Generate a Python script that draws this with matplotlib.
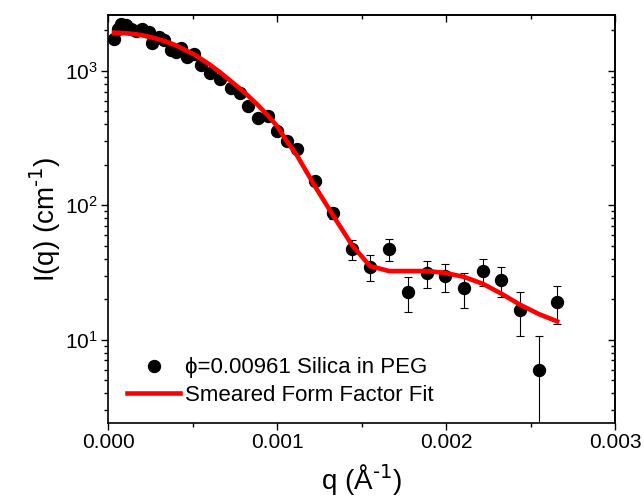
import numpy as np
import matplotlib
matplotlib.use("Agg")
import matplotlib.pyplot as plt
from matplotlib.lines import Line2D
from matplotlib.ticker import LogLocator, MultipleLocator, FormatStrFormatter, NullFormatter

plt.rcParams['font.family'] = ['Liberation Sans', 'DejaVu Sans']
plt.rcParams['mathtext.default'] = 'regular'

# ---- data ----
q_data = [3.55e-5, 5.92e-5, 7.69e-5, 1.065e-4, 1.361e-4, 1.657e-4, 2.012e-4, 2.426e-4,
          2.604e-4, 3.018e-4, 3.314e-4, 3.728e-4, 4.024e-4, 4.320e-4, 4.675e-4, 5.089e-4,
          5.503e-4, 6.036e-4, 6.627e-4, 7.278e-4, 7.811e-4, 8.284e-4, 8.876e-4, 9.467e-4,
          1.000e-3, 1.059e-3, 1.118e-3, 1.225e-3, 1.331e-3, 1.444e-3, 1.550e-3, 1.663e-3,
          1.775e-3, 1.888e-3, 1.994e-3, 2.107e-3, 2.219e-3, 2.325e-3, 2.438e-3, 2.550e-3,
          2.657e-3]
I_data = [1726, 2047, 2229, 2193, 2047, 1977, 2047, 1944,
          1611, 1785, 1698, 1431, 1383, 1481, 1270, 1337,
          1108, 967, 873, 748, 687, 550, 449, 464,
          359, 303, 264, 151, 87.3, 47.2, 34.8, 47.2,
          22.7, 31.4, 29.8, 24.3, 32.4, 27.8, 16.7, 6.0,
          19.1]
I_err = [40, 40, 40, 40, 40, 35, 35, 35,
         30, 30, 30, 28, 28, 28, 25, 25,
         22, 20, 18, 16, 14, 12, 10, 10,
         8, 7, 7, 8, 8, 8.3, 7.5, 8.5,
         6.6, 7.3, 7.0, 7.0, 7.5, 7.0, 6.0, 4.6,
         6.1]
I_fit = [1922, 1919, 1912, 1903, 1886, 1870, 1839, 1792,
         1770, 1712, 1668, 1598, 1545, 1481, 1406, 1325,
         1227, 1108, 975, 836, 736, 653, 555, 464,
         388, 298, 235, 138, 84.3, 50.5, 35.3, 32.4,
         32.4, 32.4, 31.4, 29.3, 26.0, 22.1, 18.2, 15.5,
         13.7]

data_label = "\u03d5=0.00961 Silica in PEG"
fit_label = "Smeared Form Factor Fit"

fig = plt.figure(figsize=(6.44, 5.01), dpi=100)
ax = fig.add_axes([108/644, 1 - 423/501, (615-108)/644, (423-15)/501])

ax.errorbar(q_data, I_data, yerr=I_err, fmt='o', color='black', ms=8.6,
            ecolor='black', elinewidth=0.8, capsize=2.9, capthick=0.8, zorder=2)
ax.plot(q_data, I_fit, color='#ff0000', lw=3.3, zorder=3)

ax.set_yscale('log')
ax.set_xlim(0, 0.003)
ax.set_ylim(2.4, 2600)

ax.xaxis.set_major_locator(MultipleLocator(0.001))
ax.xaxis.set_minor_locator(MultipleLocator(0.0005))
ax.xaxis.set_major_formatter(FormatStrFormatter('%.3f'))
ax.yaxis.set_major_locator(LogLocator(base=10, numticks=10))
ax.yaxis.set_minor_locator(LogLocator(base=10, subs=np.arange(2, 10), numticks=20))
ax.yaxis.set_minor_formatter(NullFormatter())

ax.tick_params(which='both', direction='out', labelsize=15, width=1.0, pad=2)
ax.tick_params(which='major', length=5)
ax.tick_params(which='minor', length=3)
for s in ax.spines.values():
    s.set_linewidth(1.2)

# mirrored inward ticks on top/right
sx = ax.secondary_xaxis('top')
sx.xaxis.set_major_locator(MultipleLocator(0.001))
sx.xaxis.set_minor_locator(MultipleLocator(0.0005))
sx.tick_params(which='both', direction='in', labeltop=False, width=1.0)
sx.tick_params(which='major', length=5)
sx.tick_params(which='minor', length=3)
sx.spines['top'].set_linewidth(1.2)
sy = ax.secondary_yaxis('right')
sy.yaxis.set_major_locator(LogLocator(base=10, numticks=10))
sy.yaxis.set_minor_locator(LogLocator(base=10, subs=np.arange(2, 10), numticks=20))
sy.tick_params(which='both', direction='in', labelright=False, width=1.0)
sy.tick_params(which='major', length=5)
sy.tick_params(which='minor', length=3)
sy.yaxis.set_minor_formatter(NullFormatter())
sy.spines['right'].set_linewidth(1.2)

ax.set_xlabel("q (Å$^{\\text{-1}}$)", fontsize=20, labelpad=8)
ax.set_ylabel("I(q) (cm$^{\\text{-1}}$)", fontsize=20, labelpad=2)

handles = [Line2D([], [], marker='o', ls='none', color='black', ms=8.6),
           Line2D([], [], color='#ff0000', lw=3.3)]
leg = ax.legend(handles, [data_label, fit_label], loc='lower left',
                bbox_to_anchor=(0.02, 0.02), frameon=False,
                fontsize=16, handlelength=2.4, handletextpad=0.2,
                borderaxespad=0, labelspacing=0.3)

fig.savefig('out.png', dpi=100, facecolor='white')
